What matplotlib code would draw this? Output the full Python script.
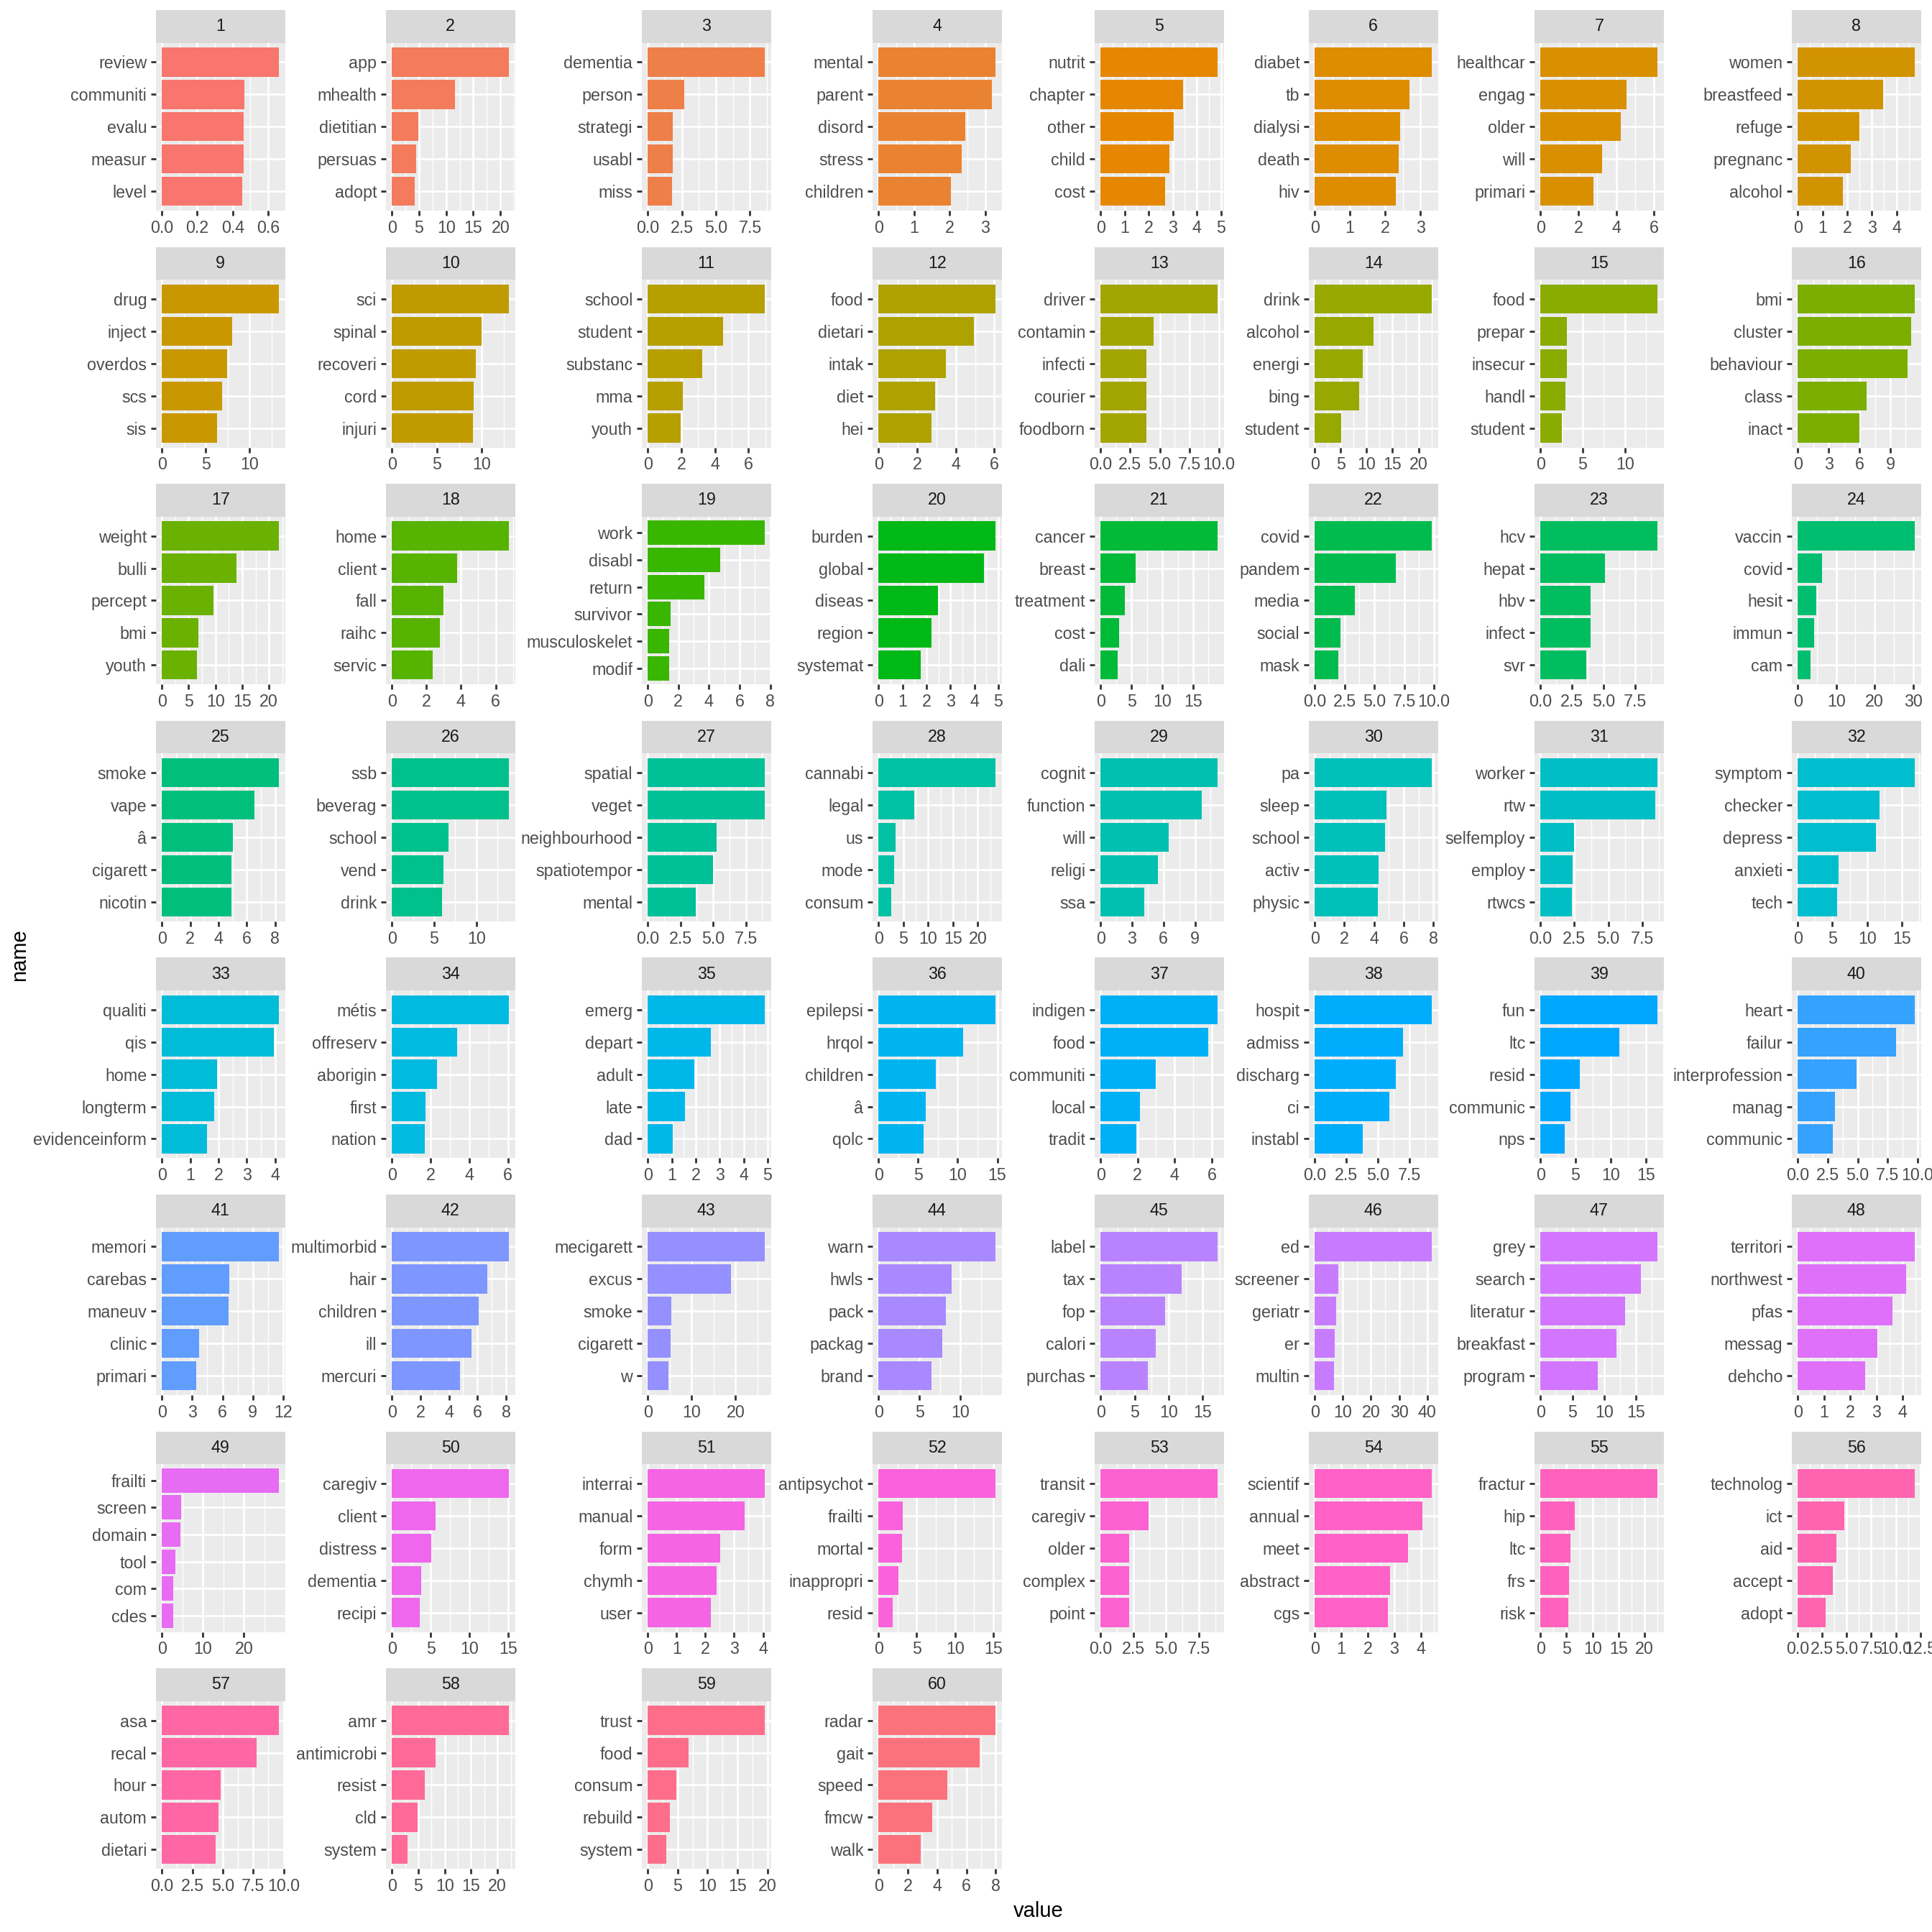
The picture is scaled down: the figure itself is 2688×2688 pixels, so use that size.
import numpy as np
import matplotlib
matplotlib.use("Agg")
import matplotlib.pyplot as plt

# top five (six) stemmed terms per topic, largest first
terms = [
    ["review", "communiti", "evalu", "measur", "level"],
    ["app", "mhealth", "dietitian", "persuas", "adopt"],
    ["dementia", "person", "strategi", "usabl", "miss"],
    ["mental", "parent", "disord", "stress", "children"],
    ["nutrit", "chapter", "other", "child", "cost"],
    ["diabet", "tb", "dialysi", "death", "hiv"],
    ["healthcar", "engag", "older", "will", "primari"],
    ["women", "breastfeed", "refuge", "pregnanc", "alcohol"],
    ["drug", "inject", "overdos", "scs", "sis"],
    ["sci", "spinal", "recoveri", "cord", "injuri"],
    ["school", "student", "substanc", "mma", "youth"],
    ["food", "dietari", "intak", "diet", "hei"],
    ["driver", "contamin", "infecti", "courier", "foodborn"],
    ["drink", "alcohol", "energi", "bing", "student"],
    ["food", "prepar", "insecur", "handl", "student"],
    ["bmi", "cluster", "behaviour", "class", "inact"],
    ["weight", "bulli", "percept", "bmi", "youth"],
    ["home", "client", "fall", "raihc", "servic"],
    ["work", "disabl", "return", "survivor", "musculoskelet", "modif"],
    ["burden", "global", "diseas", "region", "systemat"],
    ["cancer", "breast", "treatment", "cost", "dali"],
    ["covid", "pandem", "media", "social", "mask"],
    ["hcv", "hepat", "hbv", "infect", "svr"],
    ["vaccin", "covid", "hesit", "immun", "cam"],
    ["smoke", "vape", "â", "cigarett", "nicotin"],
    ["ssb", "beverag", "school", "vend", "drink"],
    ["spatial", "veget", "neighbourhood", "spatiotempor", "mental"],
    ["cannabi", "legal", "us", "mode", "consum"],
    ["cognit", "function", "will", "religi", "ssa"],
    ["pa", "sleep", "school", "activ", "physic"],
    ["worker", "rtw", "selfemploy", "employ", "rtwcs"],
    ["symptom", "checker", "depress", "anxieti", "tech"],
    ["qualiti", "qis", "home", "longterm", "evidenceinform"],
    ["métis", "offreserv", "aborigin", "first", "nation"],
    ["emerg", "depart", "adult", "late", "dad"],
    ["epilepsi", "hrqol", "children", "â", "qolc"],
    ["indigen", "food", "communiti", "local", "tradit"],
    ["hospit", "admiss", "discharg", "ci", "instabl"],
    ["fun", "ltc", "resid", "communic", "nps"],
    ["heart", "failur", "interprofession", "manag", "communic"],
    ["memori", "carebas", "maneuv", "clinic", "primari"],
    ["multimorbid", "hair", "children", "ill", "mercuri"],
    ["mecigarett", "excus", "smoke", "cigarett", "w"],
    ["warn", "hwls", "pack", "packag", "brand"],
    ["label", "tax", "fop", "calori", "purchas"],
    ["ed", "screener", "geriatr", "er", "multin"],
    ["grey", "search", "literatur", "breakfast", "program"],
    ["territori", "northwest", "pfas", "messag", "dehcho"],
    ["frailti", "screen", "domain", "tool", "com", "cdes"],
    ["caregiv", "client", "distress", "dementia", "recipi"],
    ["interrai", "manual", "form", "chymh", "user"],
    ["antipsychot", "frailti", "mortal", "inappropri", "resid"],
    ["transit", "caregiv", "older", "complex", "point"],
    ["scientif", "annual", "meet", "abstract", "cgs"],
    ["fractur", "hip", "ltc", "frs", "risk"],
    ["technolog", "ict", "aid", "accept", "adopt"],
    ["asa", "recal", "hour", "autom", "dietari"],
    ["amr", "antimicrobi", "resist", "cld", "system"],
    ["trust", "food", "consum", "rebuild", "system"],
    ["radar", "gait", "speed", "fmcw", "walk"],
]

values = [
    [0.662, 0.467, 0.463, 0.463, 0.452],
    [21.6, 11.6, 4.85, 4.5, 4.26],
    [8.6, 2.68, 1.83, 1.83, 1.78],
    [3.29, 3.18, 2.44, 2.33, 2.03],
    [4.87, 3.44, 3.05, 2.85, 2.67],
    [3.33, 2.70, 2.43, 2.38, 2.31],
    [6.19, 4.56, 4.23, 3.26, 2.80],
    [4.75, 3.45, 2.49, 2.14, 1.84],
    [13.36, 8.03, 7.45, 6.86, 6.28],
    [13.07, 10.0, 9.36, 9.14, 9.07],
    [6.98, 4.5, 3.24, 2.1, 1.95],
    [6.07, 4.93, 3.5, 2.93, 2.73],
    [9.9, 4.48, 3.9, 3.9, 3.9],
    [22.6, 11.4, 9.2, 8.6, 5.15],
    [13.87, 3.14, 3.14, 3.0, 2.55],
    [11.4, 11.0, 10.7, 6.69, 6.02],
    [21.9, 13.9, 9.7, 6.8, 6.6],
    [6.78, 3.78, 3.0, 2.78, 2.37],
    [7.66, 4.73, 3.72, 1.51, 1.38, 1.38],
    [4.89, 4.41, 2.47, 2.2, 1.77],
    [19.0, 5.7, 3.9, 3.0, 2.8],
    [9.84, 6.82, 3.39, 2.19, 1.98],
    [9.31, 5.15, 3.97, 3.97, 3.63],
    [30.5, 6.3, 4.84, 4.2, 3.4],
    [8.28, 6.52, 5.02, 4.93, 4.93],
    [13.86, 13.79, 6.67, 6.14, 5.91],
    [8.97, 8.97, 5.29, 5.0, 3.68],
    [23.6, 7.14, 3.5, 3.1, 2.6],
    [11.18, 9.65, 6.53, 5.47, 4.18],
    [7.91, 4.85, 4.73, 4.31, 4.27],
    [8.64, 8.45, 2.5, 2.36, 2.32],
    [16.9, 11.8, 11.25, 5.9, 5.7],
    [4.14, 3.95, 1.94, 1.85, 1.6],
    [6.06, 3.38, 2.32, 1.75, 1.69],
    [4.89, 2.62, 1.95, 1.55, 1.04],
    [14.8, 10.7, 7.2, 6.0, 5.7],
    [6.33, 5.83, 2.97, 2.13, 1.93],
    [9.26, 6.96, 6.42, 5.88, 3.82],
    [16.7, 11.2, 5.6, 4.3, 3.5],
    [9.79, 8.19, 4.92, 3.1, 2.95],
    [11.6, 6.67, 6.6, 3.68, 3.37],
    [8.22, 6.7, 6.11, 5.57, 4.76],
    [26.7, 19.0, 5.4, 5.26, 4.8],
    [14.3, 8.9, 8.2, 7.8, 6.46],
    [17.2, 11.9, 9.5, 8.1, 6.96],
    [41.7, 8.4, 7.7, 7.1, 6.8],
    [18.4, 15.8, 13.3, 11.9, 9.0],
    [4.47, 4.14, 3.62, 3.03, 2.58],
    [28.6, 4.7, 4.5, 3.3, 2.8, 2.8],
    [15.1, 5.6, 5.04, 3.8, 3.6],
    [4.07, 3.36, 2.51, 2.4, 2.18],
    [15.3, 3.2, 3.1, 2.6, 1.85],
    [8.96, 3.68, 2.2, 2.2, 2.17],
    [4.42, 4.07, 3.51, 2.85, 2.76],
    [22.5, 6.6, 5.8, 5.56, 5.3],
    [11.96, 4.75, 3.92, 3.6, 2.85],
    [9.63, 7.79, 4.84, 4.63, 4.42],
    [22.2, 8.24, 6.2, 4.85, 3.03],
    [19.6, 6.85, 4.8, 3.74, 3.1],
    [8.0, 6.9, 4.7, 3.65, 2.9],
]

# x axis breaks as printed under each facet
breaks = [
    [0, 0.2, 0.4, 0.6], [0, 5, 10, 15, 20], [0, 2.5, 5, 7.5], [0, 1, 2, 3],
    [0, 1, 2, 3, 4, 5], [0, 1, 2, 3], [0, 2, 4, 6], [0, 1, 2, 3, 4],
    [0, 5, 10], [0, 5, 10], [0, 2, 4, 6], [0, 2, 4, 6],
    [0, 2.5, 5, 7.5, 10], [0, 5, 10, 15, 20], [0, 5, 10], [0, 3, 6, 9],
    [0, 5, 10, 15, 20], [0, 2, 4, 6], [0, 2, 4, 6, 8], [0, 1, 2, 3, 4, 5],
    [0, 5, 10, 15], [0, 2.5, 5, 7.5, 10], [0, 2.5, 5, 7.5], [0, 10, 20, 30],
    [0, 2, 4, 6, 8], [0, 5, 10], [0, 2.5, 5, 7.5], [0, 5, 10, 15, 20],
    [0, 3, 6, 9], [0, 2, 4, 6, 8], [0, 2.5, 5, 7.5], [0, 5, 10, 15],
    [0, 1, 2, 3, 4], [0, 2, 4, 6], [0, 1, 2, 3, 4, 5], [0, 5, 10, 15],
    [0, 2, 4, 6], [0, 2.5, 5, 7.5], [0, 5, 10, 15], [0, 2.5, 5, 7.5, 10],
    [0, 3, 6, 9, 12], [0, 2, 4, 6, 8], [0, 10, 20], [0, 5, 10],
    [0, 5, 10, 15], [0, 10, 20, 30, 40], [0, 5, 10, 15], [0, 1, 2, 3, 4],
    [0, 10, 20], [0, 5, 10, 15], [0, 1, 2, 3, 4], [0, 5, 10, 15],
    [0, 2.5, 5, 7.5], [0, 1, 2, 3, 4], [0, 5, 10, 15, 20], [0, 2.5, 5, 7.5, 10, 12.5],
    [0, 2.5, 5, 7.5, 10], [0, 5, 10, 15, 20], [0, 5, 10, 15, 20], [0, 2, 4, 6, 8],
]


def hue_pal(n, c=100.0, l=65.0):
    # same as scales::hue_pal() -> hcl(h, 100, 65)
    h = np.deg2rad(np.linspace(15, 375, n + 1)[:-1])
    xn, yn, zn = 95.047, 100.0, 108.883
    un = 4 * xn / (xn + 15 * yn + 3 * zn)
    vn = 9 * yn / (xn + 15 * yn + 3 * zn)
    Y = yn * ((l + 16) / 116) ** 3
    u = c * np.cos(h) / (13 * l) + un
    v = c * np.sin(h) / (13 * l) + vn
    X = 9 * Y * u / (4 * v)
    Z = -X / 3 - 5 * Y + 3 * Y / v
    M = np.array([[3.240479, -1.537150, -0.498535],
                  [-0.969256, 1.875992, 0.041556],
                  [0.055648, -0.204043, 1.057311]])
    rgb = M @ np.vstack([X, np.full_like(X, Y), Z]) / 100.0
    rgb = np.where(rgb > 0.0031308, 1.055 * np.abs(rgb) ** (1 / 2.4) - 0.055, 12.92 * rgb)
    return np.clip(rgb.T, 0, 1)


def fmt_breaks(b):
    if all(float(x).is_integer() for x in b):
        return ["%d" % x for x in b]
    return ["%.1f" % x for x in b]


plt.rcParams['font.family'] = ['Liberation Sans', 'DejaVu Sans']

colors = hue_pal(len(values))
S = 2688.0
fig = plt.figure(figsize=(13.44, 13.44), dpi=200)

col_left = [217, 537, 893, 1214, 1523, 1821, 2135, 2493]
panel_w = 179.5
row_pitch = 329.6
strip_h = 45.5
panel_h = 233.5

for i in range(len(values)):
    r, c = divmod(i, 8)
    top = 14 + r * row_pitch
    x0 = col_left[c] / S

    # facet strip
    sax = fig.add_axes([x0, 1 - (top + strip_h) / S, panel_w / S, strip_h / S])
    sax.set_facecolor('#D9D9D9')
    sax.set_xticks([])
    sax.set_yticks([])
    for sp in sax.spines.values():
        sp.set_visible(False)
    sax.text(0.5, 0.5, str(i + 1), ha='center', va='center', fontsize=8.4,
             color='#1A1A1A', transform=sax.transAxes)

    ax = fig.add_axes([x0, 1 - (top + strip_h + panel_h) / S, panel_w / S, panel_h / S])
    ax.set_facecolor('#EBEBEB')
    vals = values[i]
    n = len(vals)
    ypos = np.arange(n, 0, -1)
    ax.barh(ypos, vals, height=0.9, color=colors[i], zorder=2)

    vmax = max(vals)
    lo, hi = -0.05 * vmax, 1.05 * vmax
    ax.set_xlim(lo, hi)
    ax.set_ylim(0.4, n + 0.6)

    b = [x for x in breaks[i] if lo <= x <= hi]
    step = breaks[i][1] - breaks[i][0]
    ext = [breaks[i][0] - step] + list(breaks[i]) + [breaks[i][-1] + step]
    minors = [(ext[k] + ext[k + 1]) / 2 for k in range(len(ext) - 1)]
    minors = [m for m in minors if lo <= m <= hi]

    ax.set_xticks(b)
    ax.set_xticklabels(fmt_breaks(b))
    ax.set_xticks(minors, minor=True)
    ax.set_yticks(ypos)
    ax.set_yticklabels(terms[i])

    ax.grid(True, which='major', color='white', linewidth=1.0, zorder=0)
    ax.grid(True, which='minor', axis='x', color='white', linewidth=0.5, zorder=0)
    ax.set_axisbelow(True)
    for sp in ax.spines.values():
        sp.set_visible(False)
    ax.tick_params(which='major', length=2.6, width=1.0, color='#333333',
                   labelcolor='#4D4D4D', labelsize=8.4, pad=2.0)
    ax.tick_params(which='minor', length=0)

fig.text(1445 / S, 1 - 2659 / S, "value", ha='center', va='center', fontsize=10.5)
fig.text(27 / S, 1 - 1329 / S, "name", ha='center', va='center', rotation=90, fontsize=10.5)

fig.savefig("out.png", dpi=200, facecolor='white')
